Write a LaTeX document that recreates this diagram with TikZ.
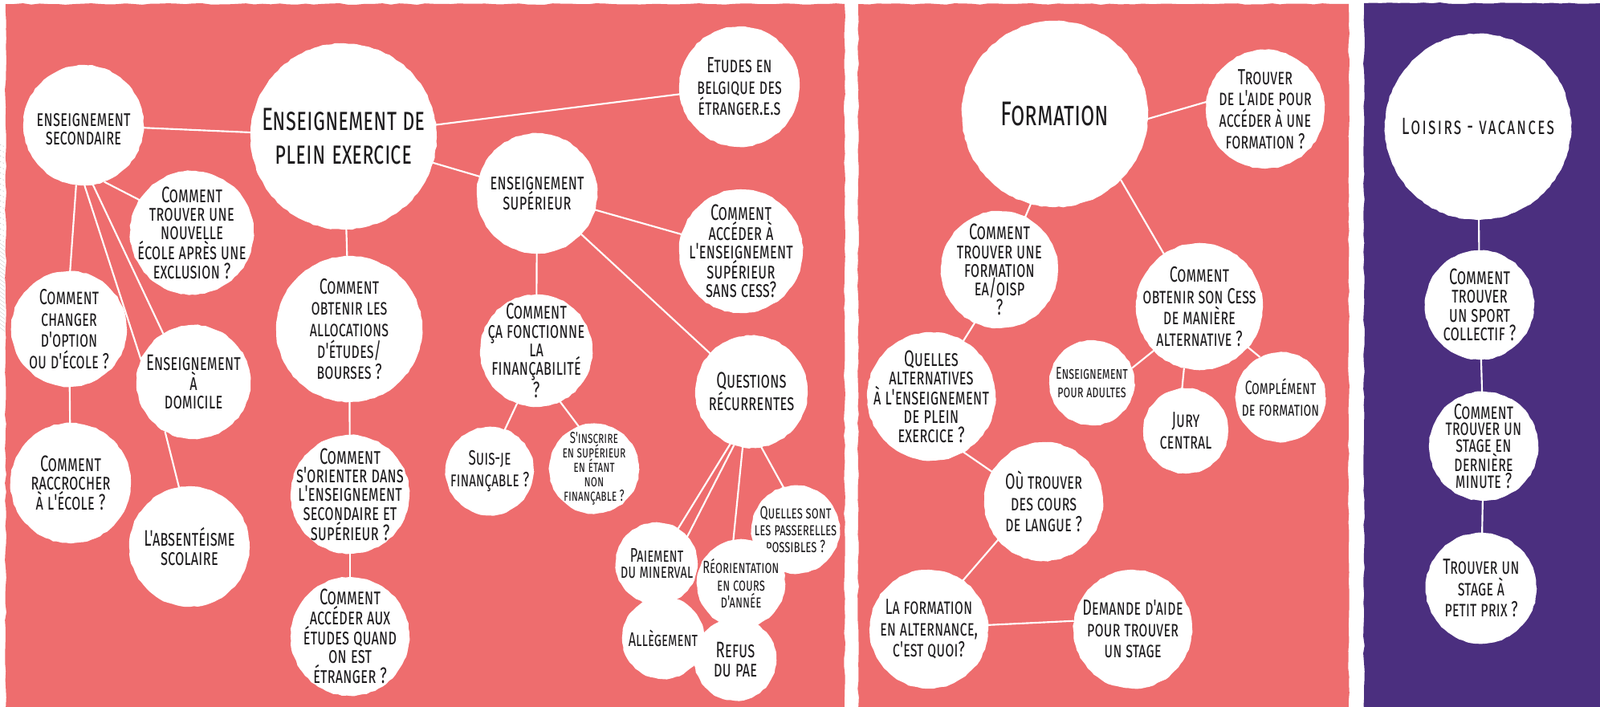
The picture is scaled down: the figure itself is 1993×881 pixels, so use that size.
\documentclass[tikz,border=0pt]{standalone}
\usepackage{fontspec}
\setmainfont{Fira Sans}
\newfontfamily\scfont{Fira Sans}[Letters=SmallCaps, FakeStretch=0.66]
\usetikzlibrary{decorations.pathmorphing}

\definecolor{panelred}{RGB}{238,109,110}
\definecolor{panelviolet}{RGB}{75,47,127}
\definecolor{ink}{RGB}{30,28,30}

\pgfdeclarelayer{back}
\pgfdeclarelayer{wires}
\pgfsetlayers{back,wires,main}

\newcommand\nodefont{\scfont\fontsize{21}{17.5}\selectfont}
\newcommand\loosefont{\scfont\fontsize{20.5}{20}\selectfont}
\newcommand\smallfont{\scfont\fontsize{15}{13.5}\selectfont}
\newcommand\titlefont{\scfont\fontsize{30}{31.5}\selectfont}

\tikzset{every picture/.style={line width=0.75pt}}
\tikzset{
  bub/.style={circle, fill=white, inner sep=0pt, outer sep=0pt, minimum size=1.5*#1,
    decorate, decoration={random steps, segment length=4pt, amplitude=0.5pt}},
  txt/.style={align=center, text=ink, font=\nodefont, inner sep=0pt},
  wire/.style={draw=white, line width=1.6pt},
  panel/.style={fill=#1, decorate, decoration={random steps, segment length=8pt, amplitude=0.7pt}},
}

\begin{document}
\begin{tikzpicture}[x=0.75pt,y=0.75pt,yscale=-1,xscale=1]
\useasboundingbox (0,0) rectangle (1993,881);

%Shape: Panels
\begin{pgfonlayer}{back}
\fill[white] (0,0) rectangle (1993,881);
\path[panel=panelred] (7,5) rectangle (1052,885);
\path[panel=panelred] (1069,5) rectangle (1680,885);
\path[panel=panelviolet] (1699,4) rectangle (1997,885);
%Hatch at the left border
\foreach \yy in {180,187,...,300} \draw[gray!55, line width=0.4pt, dash pattern=on 1pt off 2pt] (0,\yy) -- (6,\yy+3);
\foreach \yy in {303,308,...,412} \draw[gray!40, line width=0.3pt] (0,\yy) -- (6,\yy+5);
\end{pgfonlayer}

%Shape: Circle -- enseignement de plein exercice
\node[bub=116, label={[txt, font=\titlefont]center:{Enseignement de\\plein exercice}}] (plein) at (428,170) {};
\node[bub=75, label={[txt, font=\scfont\fontsize{21}{17}\selectfont, yshift=-4pt]center:{enseignement\\secondaire}}] (secondaire) at (104,156) {};
\node[bub=77, label={[txt]center:{Comment\\trouver une\\nouvelle\\école après une\\exclusion ?}}] (exclusion) at (239,290) {};
\node[bub=72, label={[txt, font=\loosefont]center:{Comment\\changer\\d'option\\ou d'école ?}}] (option) at (86,410) {};
\node[bub=71, label={[txt]center:{Enseignement\\à\\domicile}}] (domicile) at (241,476) {};
\node[bub=75, label={[txt]center:{Comment\\raccrocher\\à l'école ?}}] (raccrocher) at (88,602) {};
\node[bub=75, label={[txt]center:{L'absentéisme\\scolaire}}] (absenteisme) at (236,681) {};
\node[bub=91, label={[txt, font=\loosefont]center:{Comment\\obtenir les\\allocations\\d'études/\\bourses ?}}] (bourses) at (435,410) {};
\node[bub=74, label={[txt]center:{Comment\\s'orienter dans\\l'enseignement\\secondaire et\\supérieur ?}}] (orienter) at (436,616) {};
\node[bub=74, label={[txt]center:{Comment\\accéder aux\\études quand\\on est\\étranger ?}}] (etranger) at (436,793) {};
\node[bub=75, label={[txt, font=\loosefont]center:{Etudes en\\belgique des\\étranger.e.s}}] (belgique) at (921,108) {};
\node[bub=75, label={[txt, font=\scfont\fontsize{21}{17}\selectfont]center:{enseignement\\supérieur}}] (superieur) at (669,241) {};
\node[bub=77, label={[txt]center:{Comment\\accéder à\\l'enseignement\\supérieur\\sans cess?}}] (sanscess) at (923,313) {};
\node[bub=70, label={[txt]center:{Comment\\ça fonctionne\\la\\finançabilité\\?}}] (financabilite) at (668,437) {};
\node[bub=55, label={[txt, font=\scfont\fontsize{19.5}{20}\selectfont]center:{Suis-je\\finançable ?}}] (suisje) at (610,587) {};
\node[bub=56, label={[txt, font=\smallfont]center:{S'inscrire\\en supérieur\\en étant\\non\\finançable ?}}] (inscrire) at (740,584) {};
\node[bub=70, label={[txt]center:{Questions\\récurrentes}}] (questions) at (936,488) {};
\node[bub=55, label={[txt, font=\scfont\fontsize{16.5}{16}\selectfont]center:{Quelles sont\\les passerelles\\possibles ?}}] (passerelles) at (991,660) {};
\node[bub=51, label={[txt, font=\scfont\fontsize{18.5}{15}\selectfont]center:{Paiement\\du minerval}}] (minerval) at (818,702) {};
\node[bub=51, label={[txt, font=\scfont\fontsize{18.5}{15}\selectfont]center:{Allègement}}] (allegement) at (826,795) {};
\node[bub=55, label={[txt, font=\scfont\fontsize{16.5}{16}\selectfont]center:{Réorientation\\en cours\\d'année}}] (reorientation) at (923,727) {};
\node[bub=51, label={[txt]center:{Refus\\du pae}}] (pae) at (916,822) {};

%Shape: Circle -- formation
\node[bub=116, label={[txt, font=\scfont\fontsize{32}{33}\selectfont]center:{Formation}}] (formation) at (1314,142) {};
\node[bub=74, label={[txt, font=\loosefont]center:{Trouver\\de l'aide pour\\accéder à une\\formation ?}}] (aide) at (1576,136) {};
\node[bub=73, label={[txt]center:{Comment\\trouver une\\formation\\ea/oisp\\?}}] (oisp) at (1245,336) {};
\node[bub=79, label={[txt, font=\loosefont]center:{Comment\\obtenir son Cess\\de manière\\alternative ?}}] (cess) at (1494,382) {};
\node[bub=80, label={[txt]center:{Quelles\\alternatives\\à l'enseignement\\de plein\\exercice ?}}] (alternatives) at (1160,494) {};
\node[bub=53, label={[txt, font=\scfont\fontsize{16}{17}\selectfont]center:{Enseignement\\pour adultes}}] (adultes) at (1360,477) {};
\node[bub=53, label={[txt, font=\loosefont]center:{Jury\\central}}] (jury) at (1477,537) {};
\node[bub=56, label={[txt, font=\scfont\fontsize{18}{20}\selectfont]center:{Complément\\de formation}}] (complement) at (1595,495) {};
\node[bub=74, label={[txt, font=\loosefont]center:{Où trouver\\des cours\\de langue ?}}] (langue) at (1300,625) {};
\node[bub=74, label={[txt, font=\loosefont]center:{La formation\\en alternance,\\c'est quoi?}}] (alternance) at (1157,784) {};
\node[bub=74, label={[txt, font=\loosefont]center:{Demande d'aide\\pour trouver\\un stage}}] (stage) at (1411,784) {};

%Shape: Circle -- loisirs
\node[bub=116, label={[txt, font=\scfont\fontsize{22}{20}\selectfont\addfontfeature{LetterSpace=7}]center:{Loisirs - vacances}}] (loisirs) at (1841,158) {};
\node[bub=68, label={[txt]center:{Comment\\trouver\\un sport\\collectif ?}}] (sport) at (1843,380) {};
\node[bub=68, label={[txt, font=\scfont\fontsize{20.5}{15.5}\selectfont]center:{Comment\\trouver un\\stage en\\dernière\\minute ?}}] (derniere) at (1848,556) {};
\node[bub=69, label={[txt, font=\loosefont]center:{Trouver un\\stage à\\petit prix ?}}] (petitprix) at (1845,733) {};

%Straight Lines
\begin{pgfonlayer}{wires}
\draw[wire] (plein) -- (secondaire);
\draw[wire] (plein) -- (belgique);
\draw[wire] (plein) -- (superieur);
\draw[wire] (plein) -- (bourses);
\draw[wire] (secondaire.-70) -- (exclusion.148);
\draw[wire] (secondaire.-97) -- (option.89);
\draw[wire] (secondaire.-89) -- (domicile.157);
\draw[wire] (secondaire.-81) -- (domicile.122);
\draw[wire] (option) -- (raccrocher);
\draw[wire] (domicile.-120) -- (absenteisme.100);
\draw[wire] (bourses) -- (orienter);
\draw[wire] (orienter) -- (etranger);
\draw[wire] (superieur) -- (sanscess);
\draw[wire] (superieur) -- (financabilite);
\draw[wire] (superieur) -- (questions);
\draw[wire] (financabilite.-110) -- (suisje.70);
\draw[wire] (financabilite.-65) -- (inscrire.110);
\draw[wire] (questions.-112) -- (minerval);
\draw[wire] (questions.-108) -- (allegement.100);
\draw[wire] (questions.-99) -- (reorientation.100);
\draw[wire] (questions.-80) -- (passerelles.106);
%formation
\draw[wire] (formation.-3) -- (aide.173);
\draw[wire] (formation.-105) -- (oisp.64);
\draw[wire] (formation.-45) -- (cess.124);
\draw[wire] (oisp.-115) -- (alternatives.60);
\draw[wire] (cess.-136) -- (adultes.20);
\draw[wire] (cess.-104) -- (jury.95);
\draw[wire] (cess.-40) -- (complement.117);
\draw[wire] (alternatives.-60) -- (langue.150);
\draw[wire] (langue.-140) -- (alternance.55);
\draw[wire] (alternance.4) -- (stage.172);
%loisirs
\draw[wire] (loisirs) -- (sport);
\draw[wire] (sport) -- (derniere);
\draw[wire] (derniere) -- (petitprix);
\end{pgfonlayer}

\end{tikzpicture}
\end{document}
